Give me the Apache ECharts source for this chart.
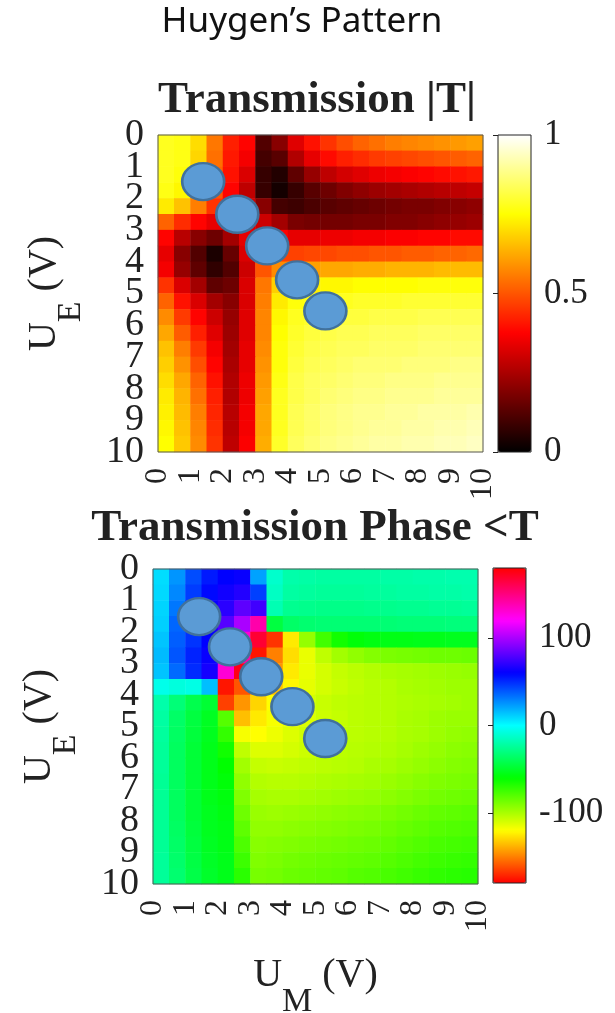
<!DOCTYPE html>
<html><head><meta charset="utf-8">
<script src="https://cdn.jsdelivr.net/npm/echarts@6/dist/echarts.min.js"></script>
<style>html,body{margin:0;padding:0;background:#fff}#c{width:615px;height:1013px}</style>
</head><body><div id="c"></div>
<script>
// ---------- data ----------
// cell centres (V) of the 20x20 sampling grid, for both U_M (columns) and U_E (rows)
const cellCenters = ['0.25','0.75','1.25','1.75','2.25','2.75','3.25','3.75','4.25','4.75',
                     '5.25','5.75','6.25','6.75','7.25','7.75','8.25','8.75','9.25','9.75'];
// voltage tick labels (V)
const axisTicks = ['0','1','2','3','4','5','6','7','8','9','10'];
const voltRange = [0, 10];

// |T| in percent; rows = U_E from 0 (top) to 10, columns = U_M from 0 to 10
const absT = [
 [78,77,70,55,42,38,12,20,33,40,45,49,52,54,56,57,58,59,60,61],
 [78,77,69,54,41,36,10,13,26,34,39,42,44,46,47,48,49,50,51,52],
 [78,76,67,52,40,32, 8, 5,14,22,28,31,33,35,36,37,38,39,40,41],
 [77,74,64,50,38,28, 8, 3, 8,13,16,19,21,23,24,25,26,27,28,29],
 [72,66,56,45,36,30,20,10, 9,11,13,14,15,16,17,18,18,19,20,21],
 [52,44,38,34,32,32,30,24,18,17,17,17,18,18,19,19,20,21,22,23],
 [38,27,20,16,24,34,40,38,34,34,35,35,36,36,37,37,38,38,39,39],
 [34,20,12, 4,15,32,45,47,47,48,48,49,49,50,50,51,51,52,52,53],
 [36,22,14, 7,12,30,50,58,60,61,62,62,63,63,64,64,64,65,65,65],
 [45,32,24,14,16,32,55,68,72,73,74,74,75,75,75,75,76,76,76,76],
 [52,40,32,24,20,32,56,72,76,77,78,78,79,79,79,80,80,80,80,80],
 [58,46,38,30,22,33,57,74,78,79,80,81,81,82,82,82,83,83,83,83],
 [62,51,42,33,23,33,57,75,79,81,82,83,83,84,84,84,85,85,85,85],
 [66,56,46,36,24,34,58,76,80,82,83,84,84,85,85,85,86,86,86,86],
 [68,59,49,38,25,34,59,76,81,83,84,85,86,86,86,87,87,87,88,88],
 [70,62,52,40,26,35,60,77,82,84,85,86,87,87,88,88,88,89,89,89],
 [72,64,54,42,26,35,61,78,82,84,86,87,88,88,89,89,89,90,90,90],
 [73,65,56,43,27,36,62,78,83,85,87,88,89,89,90,90,91,91,91,92],
 [74,66,57,44,27,36,62,78,83,85,87,88,89,90,90,91,91,92,92,93],
 [75,67,58,45,28,37,63,79,84,86,88,89,90,91,91,92,92,93,93,94]
];

// phase of T in degrees; same layout
const phaseT = [
 [  8, 25, 42, 54, 60, 62, 22, -12, -20, -21, -22, -22, -22, -22, -21, -21, -20, -20, -19, -19],
 [  9, 28, 46, 58, 64, 68, 45, -14, -22, -23, -24, -24, -24, -23, -23, -22, -22, -21, -21, -20],
 [ 10, 32, 50, 62, 70, 82, 75, -18, -26, -27, -28, -28, -28, -27, -27, -26, -26, -25, -25, -24],
 [ 11, 36, 54, 66, 80,100,140, -45, -36, -34, -33, -33, -33, -33, -33, -32, -32, -32, -31, -31],
 [ 14, 38, 48, 60, 90,130,168,-168,-125, -95, -75, -64, -58, -56, -55, -55, -54, -54, -53, -53],
 [ 16, 40, 52, 62, 95,140,-175,-150,-128,-115,-105, -98, -94, -91, -89, -88, -87, -86, -86, -85],
 [ 14, 35, 50, 65,130,175,-165,-145,-125,-115,-110,-106,-104,-102,-100, -99, -98, -97, -96, -95],
 [ -5, -8, -6, 15,-175,-160,-148,-135,-122,-114,-110,-107,-105,-103,-102,-100, -99, -98, -97, -97],
 [-20,-32,-42,-48,-165,-145,-130,-120,-115,-110,-107,-105,-104,-103,-102,-101,-100, -99, -98, -97],
 [-22,-36,-45,-52, -80,-135,-125,-118,-115,-112,-108,-106,-104,-103,-102,-100, -99, -97, -96, -96],
 [-23,-37,-46,-53, -72,-118,-120,-116,-112,-109,-107,-105,-104,-103,-102,-100, -99, -97, -95, -94],
 [-24,-38,-47,-54, -64,-105,-112,-112,-110,-108,-106,-104,-103,-102,-101, -99, -97, -95, -93, -92],
 [-24,-38,-47,-54, -60, -98,-106,-107,-106,-105,-104,-103,-102,-100, -99, -97, -95, -93, -91, -90],
 [-25,-38,-47,-54, -58, -94,-102,-103,-103,-102,-101,-100, -99, -98, -96, -94, -92, -90, -89, -88],
 [-25,-38,-47,-54, -57, -90, -99,-100,-100, -99, -98, -97, -96, -95, -93, -91, -89, -87, -86, -85],
 [-25,-38,-47,-53, -56, -86, -96, -97, -96, -95, -94, -93, -92, -91, -89, -87, -85, -83, -82, -81],
 [-25,-37,-46,-53, -55, -82, -94, -94, -93, -92, -91, -90, -89, -88, -86, -84, -82, -80, -79, -78],
 [-25,-36,-45,-52, -55, -78, -92, -91, -90, -89, -88, -87, -86, -85, -83, -81, -79, -77, -76, -75],
 [-24,-35,-44,-51, -54, -74, -90, -89, -87, -86, -85, -84, -83, -82, -80, -78, -76, -74, -73, -72],
 [-24,-34,-43,-50, -54, -70, -88, -87, -85, -84, -83, -82, -80, -79, -77, -75, -73, -71, -70, -69]
];

// operating points drawn as ellipses: [U_M, U_E]
const circlesTop = [[1.39,1.47],[2.44,2.50],[3.36,3.50],[4.28,4.57],[5.15,5.55]];
const circlesBottom = [[1.42,1.51],[2.37,2.47],[3.33,3.42],[4.29,4.37],[5.30,5.38]];

const absTRange = [0, 1];
const absTTickInterval = 0.5;
const phaseRange = [-180, 180];
const phaseTicks = [-100, 0, 100];

// ---------- chart ----------
const SERIF = "'Liberation Serif','Times New Roman',serif";
const INK = '#222';
const hot = ['#000000','#550000','#aa0000','#ff0000','#ff5500','#ffaa00','#ffff00','#ffff80','#ffffff'];
const hsv = ['#ff0000','#ffff00','#00ff00','#00ffff','#0000ff','#ff00ff','#ff0000'];

function toCells(m){const out=[];m.forEach((row,r)=>row.forEach((v,c)=>out.push([c,r,v])));return out;}

const TOP = {left:158, top:135, width:325, height:317};
const BOT = {left:153, top:569, width:325, height:315};
const CB_TOP = {left:498, top:135, width:33, height:317};
const CB_BOT = {left:493, top:568, width:33, height:315};

const nameRich = {
  u:{fontFamily:SERIF,fontSize:40,color:INK,verticalAlign:'top'},
  s:{fontFamily:SERIF,fontSize:34,color:INK,verticalAlign:'top',padding:[30,0,0,0]}
};

const hidden = {axisLine:{show:false},axisTick:{show:false},splitLine:{show:false},axisLabel:{show:false}};
function cellX(gi){return {gridIndex:gi,type:'category',data:cellCenters,show:false};}
function cellY(gi){return {gridIndex:gi,type:'category',data:cellCenters,inverse:true,show:false};}
function voltX(gi){return {gridIndex:gi,type:'value',min:voltRange[0],max:voltRange[1],show:false};}
function voltY(gi){return {gridIndex:gi,type:'value',min:voltRange[0],max:voltRange[1],inverse:true,show:false};}
function labelX(gi,withName){
  const a={gridIndex:gi,type:'category',data:axisTicks,boundaryGap:false,position:'bottom',
    axisLine:{show:false},axisTick:{show:false},splitLine:{show:false},
    axisLabel:{interval:0,rotate:90,fontFamily:SERIF,fontSize:32,color:INK,margin:16}};
  if(withName){a.name='{u|U}{s|M}{u| (V)}';a.nameLocation='middle';a.nameGap=71;a.nameTextStyle={rich:nameRich};}
  return a;
}
function labelY(gi){
  return {gridIndex:gi,type:'category',data:axisTicks,boundaryGap:false,inverse:true,position:'left',
    axisLine:{show:false},axisTick:{show:false},splitLine:{show:false},
    axisLabel:{interval:0,fontFamily:SERIF,fontSize:38,color:INK,margin:14},
    name:'{u|U}{s|E}{u| (V)}',nameLocation:'middle',nameGap:70,nameRotate:90,nameTextStyle:{rich:nameRich}};
}

const gridBase={outerBoundsMode:'none',containLabel:false};

const option = {
  backgroundColor:'#fff',
  animation:false,
  grid:[
    Object.assign({},gridBase,TOP),
    Object.assign({},gridBase,TOP,{show:true,borderColor:'#555',borderWidth:1,z:10}),
    Object.assign({},gridBase,CB_TOP,{show:true,borderColor:'#222',borderWidth:1,z:10}),
    Object.assign({},gridBase,BOT),
    Object.assign({},gridBase,BOT,{show:true,borderColor:'#555',borderWidth:1,z:10}),
    Object.assign({},gridBase,CB_BOT,{show:true,borderColor:'#222',borderWidth:1,z:10})
  ],
  xAxis:[
    cellX(0),            // 0 top heatmap
    voltX(1),            // 1 top ellipses
    labelX(1,false),     // 2 top tick labels
    {gridIndex:2,type:'value',min:0,max:1,show:false}, // 3
    cellX(3),            // 4 bottom heatmap
    voltX(4),            // 5 bottom ellipses
    labelX(4,true),      // 6 bottom tick labels + name
    {gridIndex:5,type:'value',min:0,max:1,show:false}  // 7
  ],
  yAxis:[
    cellY(0),
    voltY(1),
    labelY(1),
    {gridIndex:2,type:'value',min:absTRange[0],max:absTRange[1],interval:absTTickInterval,position:'right',
      axisLine:{show:false},splitLine:{show:false},
      axisTick:{show:true,inside:true,length:5,lineStyle:{color:INK}},
      axisLabel:{fontFamily:SERIF,fontSize:35,color:INK,margin:13,showMinLabel:true,showMaxLabel:true}},
    cellY(3),
    voltY(4),
    labelY(4),
    {gridIndex:5,type:'value',min:phaseRange[0],max:phaseRange[1],position:'right',
      axisLine:{show:false},splitLine:{show:false},
      axisTick:{show:true,inside:true,length:5,lineStyle:{color:INK},customValues:phaseTicks},
      axisLabel:{fontFamily:SERIF,fontSize:35,color:INK,margin:13,customValues:phaseTicks}}
  ],
  visualMap:[
    {type:'continuous',seriesIndex:0,min:0,max:100,orient:'vertical',
      left:CB_TOP.left,top:CB_TOP.top,itemWidth:CB_TOP.width,itemHeight:CB_TOP.height,
      padding:0,calculable:false,hoverLink:false,inRange:{color:hot}},
    {type:'continuous',seriesIndex:2,min:phaseRange[0],max:phaseRange[1],orient:'vertical',
      left:CB_BOT.left,top:CB_BOT.top,itemWidth:CB_BOT.width,itemHeight:CB_BOT.height,
      padding:0,calculable:false,hoverLink:false,inRange:{color:hsv}}
  ],
  series:[
    {type:'heatmap',xAxisIndex:0,yAxisIndex:0,data:toCells(absT),silent:true},
    {type:'scatter',xAxisIndex:1,yAxisIndex:1,data:circlesTop,symbol:'circle',symbolSize:[42,37],silent:true,z:5,
      itemStyle:{color:'#5b9bd5',borderColor:'#41719c',borderWidth:2.5,opacity:1}},
    {type:'heatmap',xAxisIndex:4,yAxisIndex:4,data:toCells(phaseT),silent:true},
    {type:'scatter',xAxisIndex:5,yAxisIndex:5,data:circlesBottom,symbol:'circle',symbolSize:[42,37],silent:true,z:5,
      itemStyle:{color:'#5b9bd5',borderColor:'#41719c',borderWidth:2.5,opacity:1}}
  ],
  graphic:[
    {type:'text',x:302,y:22,silent:true,style:{text:'Huygen\u2019s Pattern',fontFamily:"'Noto Sans',sans-serif",fontSize:35,fill:'#111',
      align:'center',verticalAlign:'middle',textAlign:'center',textVerticalAlign:'middle'}},
    {type:'text',x:317,y:100,silent:true,style:{text:'Transmission |T|',fontFamily:SERIF,fontWeight:'bold',fontSize:45,fill:INK,
      align:'center',verticalAlign:'middle',textAlign:'center',textVerticalAlign:'middle'}},
    {type:'text',x:315,y:528,silent:true,style:{text:'Transmission Phase <T',fontFamily:SERIF,fontWeight:'bold',fontSize:45,fill:INK,
      align:'center',verticalAlign:'middle',textAlign:'center',textVerticalAlign:'middle'}}
  ]
};

const chart = echarts.init(document.getElementById('c'), null, {renderer:'canvas'});
chart.setOption(option);
</script>
</body></html>
